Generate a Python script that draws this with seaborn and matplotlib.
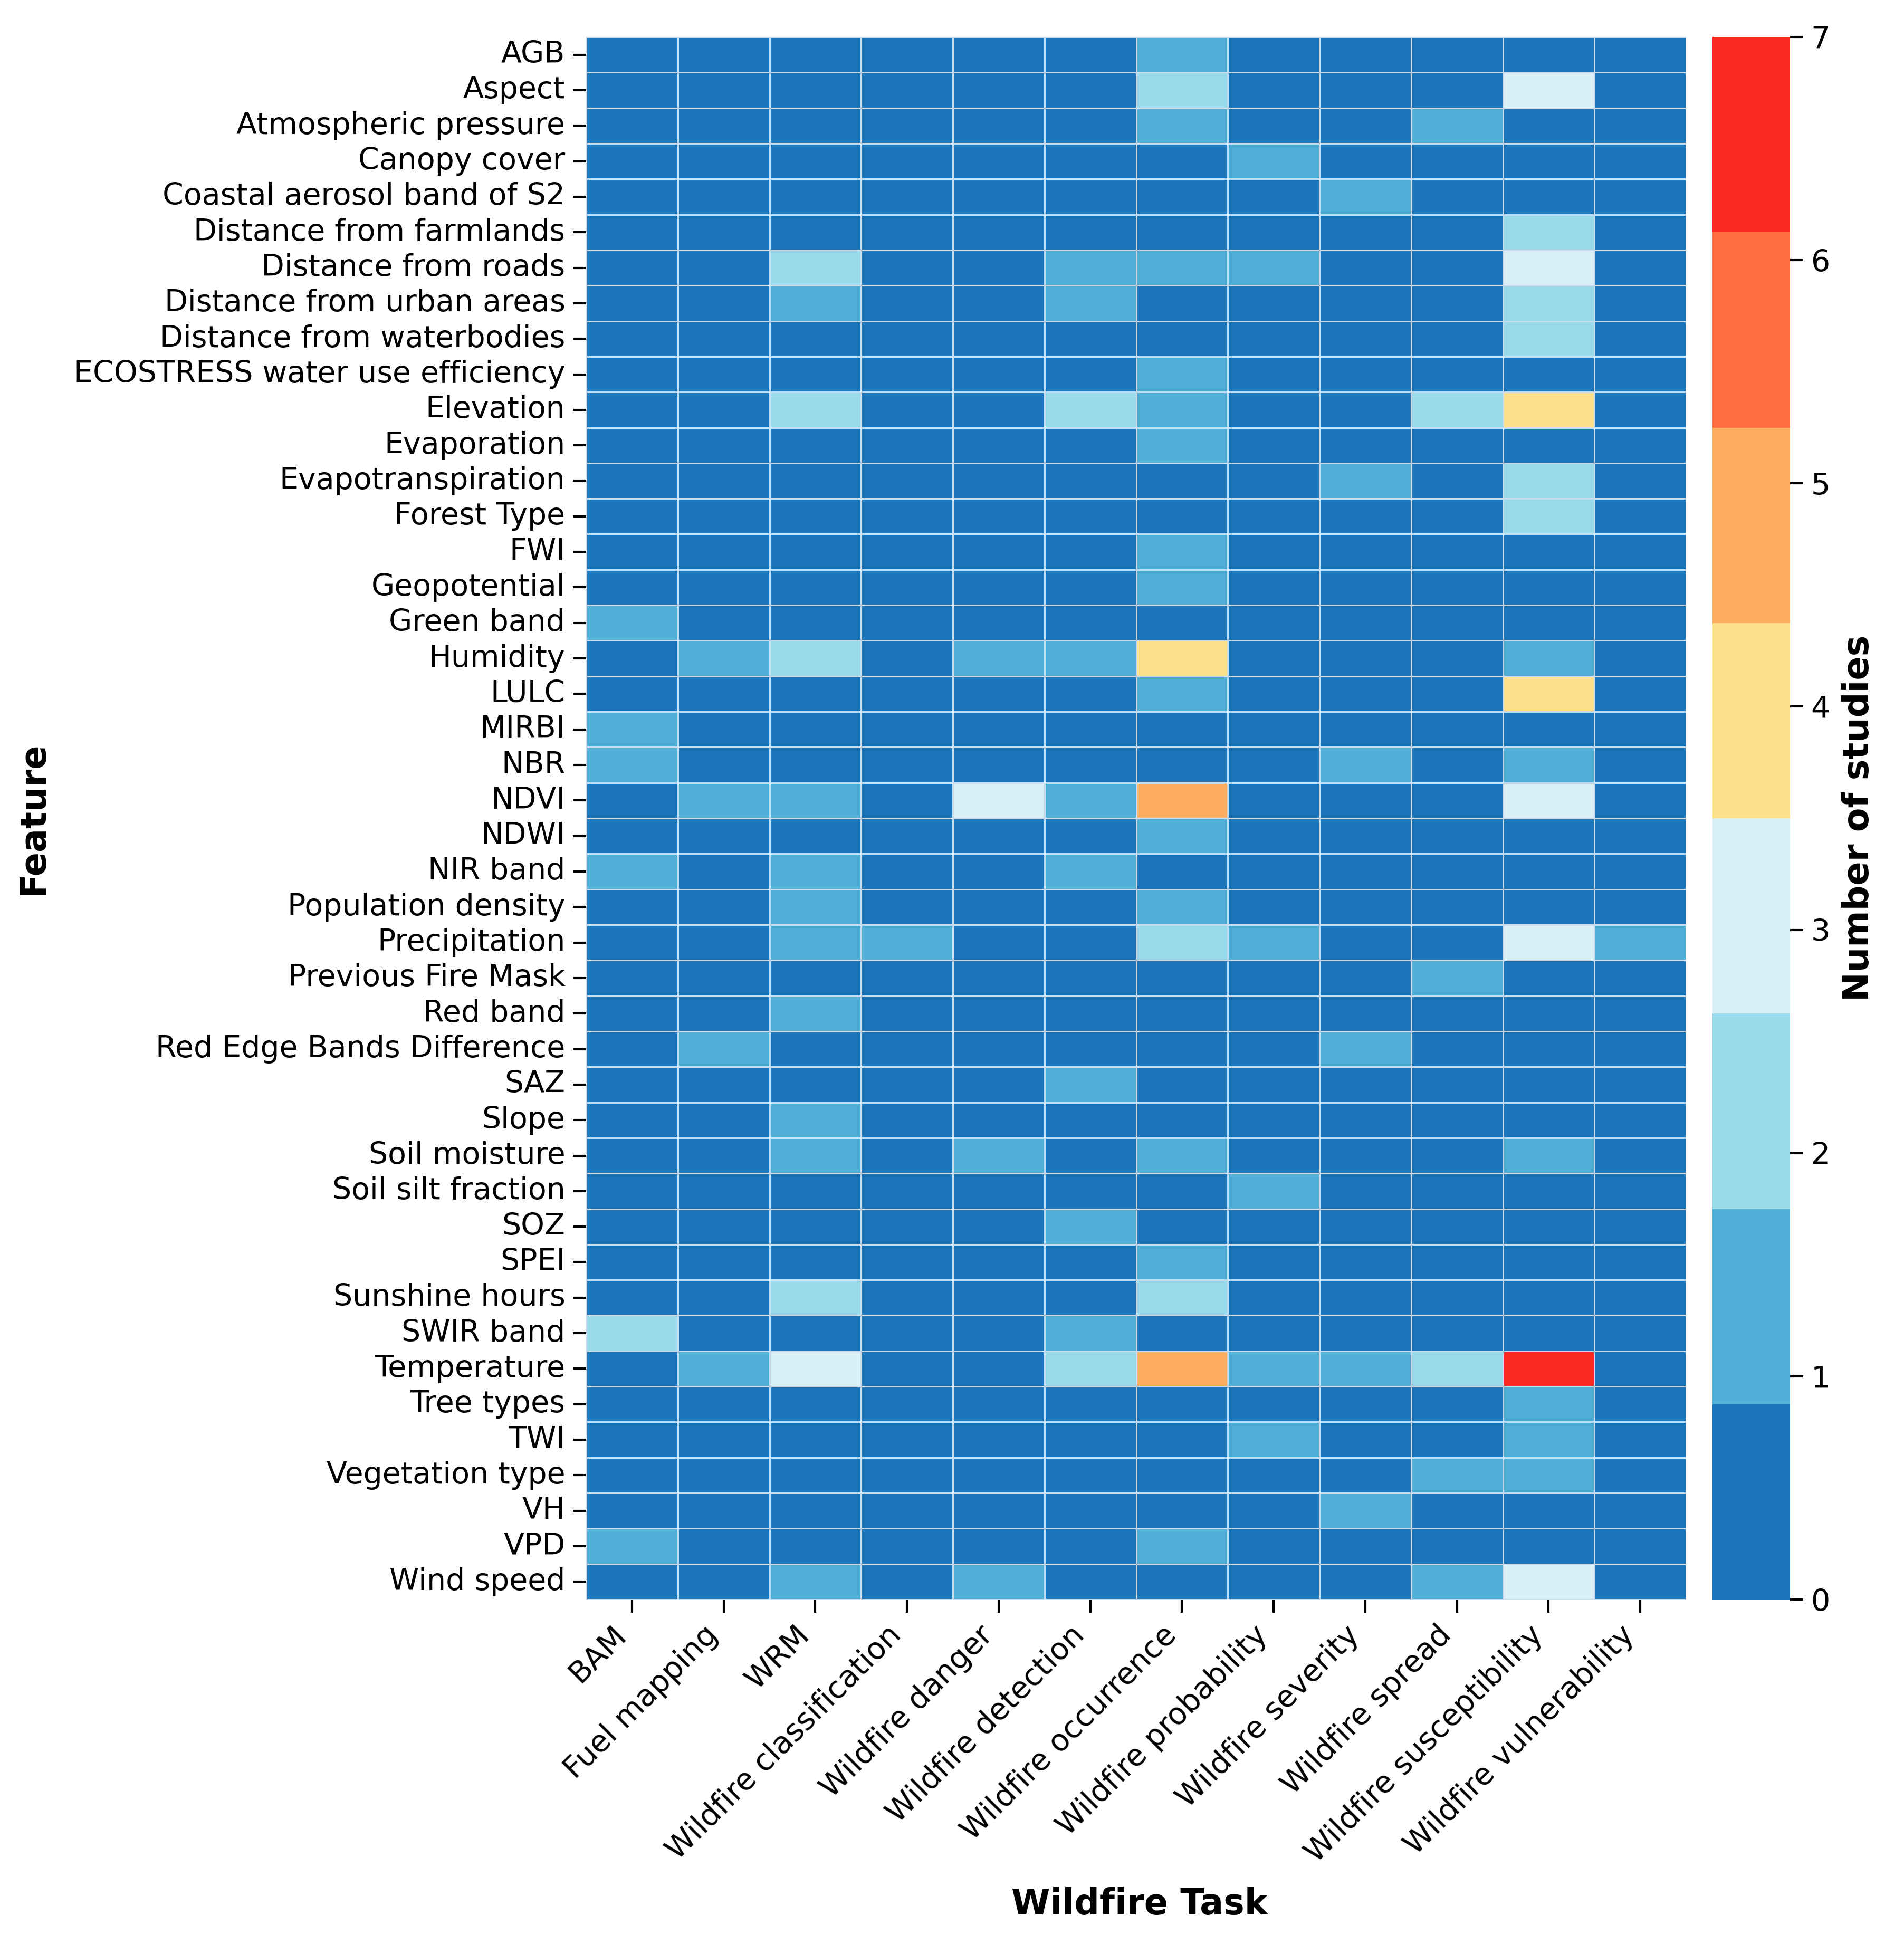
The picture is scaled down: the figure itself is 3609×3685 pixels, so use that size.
import numpy as np
import pandas as pd
import matplotlib
matplotlib.use("Agg")
import matplotlib.pyplot as plt
from matplotlib.colors import ListedColormap
import seaborn as sns

tasks = ["BAM", "Fuel mapping", "WRM", "Wildfire classification", "Wildfire danger",
         "Wildfire detection", "Wildfire occurrence", "Wildfire probability",
         "Wildfire severity", "Wildfire spread", "Wildfire susceptibility",
         "Wildfire vulnerability"]

features = ["AGB", "Aspect", "Atmospheric pressure", "Canopy cover", "Coastal aerosol band of S2",
            "Distance from farmlands", "Distance from roads", "Distance from urban areas",
            "Distance from waterbodies", "ECOSTRESS water use efficiency", "Elevation",
            "Evaporation", "Evapotranspiration", "Forest Type", "FWI", "Geopotential",
            "Green band", "Humidity", "LULC", "MIRBI", "NBR", "NDVI", "NDWI", "NIR band",
            "Population density", "Precipitation", "Previous Fire Mask", "Red band",
            "Red Edge Bands Difference", "SAZ", "Slope", "Soil moisture", "Soil silt fraction",
            "SOZ", "SPEI", "Sunshine hours", "SWIR band", "Temperature", "Tree types", "TWI",
            "Vegetation type", "VH", "VPD", "Wind speed"]

# columns: BAM, Fuel, WRM, Class, Danger, Detect, Occur, Prob, Sever, Spread, Suscept, Vuln
counts = [
    [0, 0, 0, 0, 0, 0, 1, 0, 0, 0, 0, 0],  # AGB
    [0, 0, 0, 0, 0, 0, 2, 0, 0, 0, 3, 0],  # Aspect
    [0, 0, 0, 0, 0, 0, 1, 0, 0, 1, 0, 0],  # Atmospheric pressure
    [0, 0, 0, 0, 0, 0, 0, 1, 0, 0, 0, 0],  # Canopy cover
    [0, 0, 0, 0, 0, 0, 0, 0, 1, 0, 0, 0],  # Coastal aerosol
    [0, 0, 0, 0, 0, 0, 0, 0, 0, 0, 2, 0],  # Dist farmlands
    [0, 0, 2, 0, 0, 1, 1, 1, 0, 0, 3, 0],  # Dist roads
    [0, 0, 1, 0, 0, 1, 0, 0, 0, 0, 2, 0],  # Dist urban
    [0, 0, 0, 0, 0, 0, 0, 0, 0, 0, 2, 0],  # Dist waterbodies
    [0, 0, 0, 0, 0, 0, 1, 0, 0, 0, 0, 0],  # ECOSTRESS
    [0, 0, 2, 0, 0, 2, 1, 0, 0, 2, 4, 0],  # Elevation
    [0, 0, 0, 0, 0, 0, 1, 0, 0, 0, 0, 0],  # Evaporation
    [0, 0, 0, 0, 0, 0, 0, 0, 1, 0, 2, 0],  # Evapotranspiration
    [0, 0, 0, 0, 0, 0, 0, 0, 0, 0, 2, 0],  # Forest Type
    [0, 0, 0, 0, 0, 0, 1, 0, 0, 0, 0, 0],  # FWI
    [0, 0, 0, 0, 0, 0, 1, 0, 0, 0, 0, 0],  # Geopotential
    [1, 0, 0, 0, 0, 0, 0, 0, 0, 0, 0, 0],  # Green band
    [0, 1, 2, 0, 1, 1, 4, 0, 0, 0, 1, 0],  # Humidity
    [0, 0, 0, 0, 0, 0, 1, 0, 0, 0, 4, 0],  # LULC
    [1, 0, 0, 0, 0, 0, 0, 0, 0, 0, 0, 0],  # MIRBI
    [1, 0, 0, 0, 0, 0, 0, 0, 1, 0, 1, 0],  # NBR
    [0, 1, 1, 0, 3, 1, 5, 0, 0, 0, 3, 0],  # NDVI
    [0, 0, 0, 0, 0, 0, 1, 0, 0, 0, 0, 0],  # NDWI
    [1, 0, 1, 0, 0, 1, 0, 0, 0, 0, 0, 0],  # NIR band
    [0, 0, 1, 0, 0, 0, 1, 0, 0, 0, 0, 0],  # Population density
    [0, 0, 1, 1, 0, 0, 2, 1, 0, 0, 3, 1],  # Precipitation
    [0, 0, 0, 0, 0, 0, 0, 0, 0, 1, 0, 0],  # Previous Fire Mask
    [0, 0, 1, 0, 0, 0, 0, 0, 0, 0, 0, 0],  # Red band
    [0, 1, 0, 0, 0, 0, 0, 0, 1, 0, 0, 0],  # Red Edge Bands Difference
    [0, 0, 0, 0, 0, 1, 0, 0, 0, 0, 0, 0],  # SAZ
    [0, 0, 1, 0, 0, 0, 0, 0, 0, 0, 0, 0],  # Slope
    [0, 0, 1, 0, 1, 0, 1, 0, 0, 0, 1, 0],  # Soil moisture
    [0, 0, 0, 0, 0, 0, 0, 1, 0, 0, 0, 0],  # Soil silt fraction
    [0, 0, 0, 0, 0, 1, 0, 0, 0, 0, 0, 0],  # SOZ
    [0, 0, 0, 0, 0, 0, 1, 0, 0, 0, 0, 0],  # SPEI
    [0, 0, 2, 0, 0, 0, 2, 0, 0, 0, 0, 0],  # Sunshine hours
    [2, 0, 0, 0, 0, 1, 0, 0, 0, 0, 0, 0],  # SWIR band
    [0, 1, 3, 0, 0, 2, 5, 1, 1, 2, 7, 0],  # Temperature
    [0, 0, 0, 0, 0, 0, 0, 0, 0, 0, 1, 0],  # Tree types
    [0, 0, 0, 0, 0, 0, 0, 1, 0, 0, 1, 0],  # TWI
    [0, 0, 0, 0, 0, 0, 0, 0, 0, 1, 1, 0],  # Vegetation type
    [0, 0, 0, 0, 0, 0, 0, 0, 1, 0, 0, 0],  # VH
    [1, 0, 0, 0, 0, 0, 1, 0, 0, 0, 0, 0],  # VPD
    [0, 0, 1, 0, 1, 0, 0, 0, 0, 1, 3, 0],  # Wind speed
]

palette = ["#1a75bb", "#4eaed5", "#98d9ea", "#d9f1f6",
           "#fee08b", "#fdae61", "#ff6d40", "#fb2b21"]
cbar_ticks = [0, 1, 2, 3, 4, 5, 6, 7]

df = pd.DataFrame(counts, index=features, columns=tasks)

sns.set_theme(style="white", rc={"text.color": "black", "axes.labelcolor": "black",
                                 "xtick.color": "black", "ytick.color": "black"})
plt.rcParams['font.family'] = ['DejaVu Sans']

W, H, DPI = 3609, 3685, 300
fig = plt.figure(figsize=(W / DPI, H / DPI), dpi=DPI)
ax = fig.add_axes([1111 / W, 1 - 3032 / H, (3196 - 1111) / W, (3032 - 70) / H])
cax = fig.add_axes([3246 / W, 1 - 3032 / H, 147 / W, (3032 - 70) / H])

cmap = ListedColormap(palette)
sns.heatmap(df, ax=ax, cbar_ax=cax, cmap=cmap, vmin=0, vmax=7,
            linewidths=0.35, linecolor="#c8dcee",
            cbar_kws={"ticks": cbar_ticks})

TS = 13.7
ax.tick_params(axis="both", which="both", length=6, width=1, color="black",
               labelcolor="black", labelsize=TS, bottom=True, left=True)
ax.set_yticklabels(features, rotation=0, fontsize=TS)
ax.set_xticklabels(tasks, rotation=45, ha="right", fontsize=TS)
ax.set_xlabel("Wildfire Task", fontsize=16, fontweight="bold", color="black")
ax.set_ylabel("Feature", fontsize=16, fontweight="bold", color="black")
ax.xaxis.set_label_coords(0.503, -0.184)
ax.yaxis.set_label_coords(-0.487, 0.5)

cax.tick_params(labelsize=TS, length=6, width=1, color="black", labelcolor="black", right=True)
cax.set_ylabel("Number of studies", fontsize=16, fontweight="bold", color="black")
cax.yaxis.set_label_coords(1.66, 0.5)

fig.savefig("out.png", dpi=DPI)
